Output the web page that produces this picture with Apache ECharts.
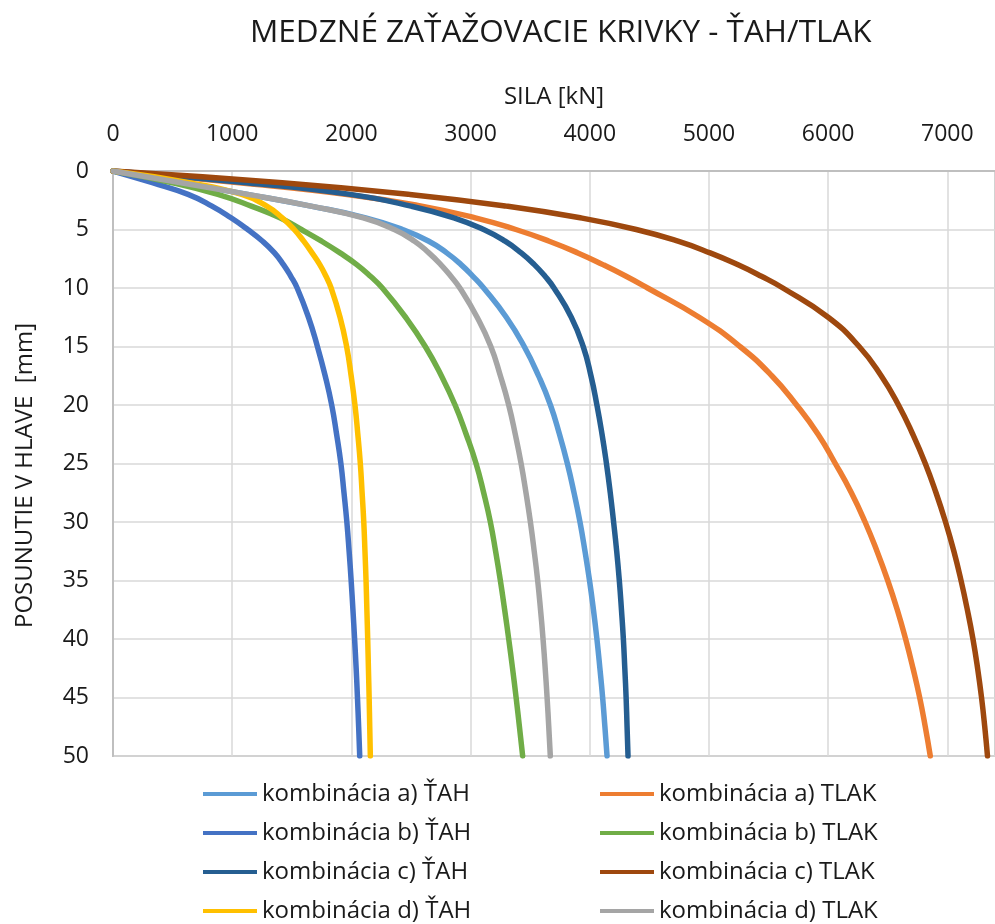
<!DOCTYPE html>
<html>
<head>
<meta charset="utf-8">
<script src="https://cdn.jsdelivr.net/npm/echarts@6/dist/echarts.min.js"></script>
<style>
  html, body { margin: 0; padding: 0; background: #fff; }
  #chart { width: 995px; height: 924px; }
</style>
</head>
<body>
<div id="chart"></div>
<script>
// posunutie v hlave [mm]
const posun = [0, 1, 2, 3, 4, 5, 6, 7, 8, 9, 10, 12.5, 15, 17.5, 20, 22.5, 25, 27.5, 30, 32.5, 35, 37.5, 40, 42.5, 45, 47.5, 50];
// sila [kN] pre jednotlive kombinacie
const aTah  = [0, 570, 1130, 1660, 2120, 2430, 2650, 2800, 2920, 3020, 3110, 3300, 3450, 3570, 3670, 3746, 3812, 3868, 3918, 3960, 3998, 4031, 4060, 4085, 4108, 4127, 4145];
const aTlak = [0, 1060, 1965, 2590, 3040, 3380, 3660, 3900, 4110, 4305, 4485, 4918, 5260, 5527, 5735, 5915, 6060, 6195, 6310, 6410, 6500, 6580, 6650, 6712, 6768, 6815, 6857];
const bTah  = [0, 330, 630, 830, 990, 1130, 1255, 1355, 1430, 1492, 1545, 1640, 1715, 1780, 1835, 1876, 1912, 1938, 1962, 1981, 1998, 2013, 2027, 2040, 2051, 2061, 2070];
const bTlak = [0, 500, 880, 1160, 1400, 1580, 1750, 1905, 2045, 2160, 2260, 2455, 2620, 2755, 2870, 2963, 3046, 3110, 3166, 3210, 3250, 3286, 3320, 3352, 3382, 3410, 3437];
const cTah  = [0, 1120, 1990, 2500, 2860, 3110, 3290, 3425, 3535, 3625, 3700, 3845, 3945, 4010, 4060, 4103, 4140, 4172, 4200, 4226, 4248, 4266, 4282, 4294, 4305, 4313, 4321];
const cTlak = [0, 1420, 2490, 3300, 3920, 4390, 4740, 5010, 5240, 5440, 5620, 6000, 6260, 6445, 6590, 6710, 6815, 6905, 6985, 7055, 7115, 7168, 7215, 7254, 7287, 7314, 7337];
const dTah  = [0, 640, 1080, 1290, 1420, 1520, 1600, 1670, 1735, 1787, 1830, 1905, 1960, 1998, 2030, 2054, 2075, 2090, 2104, 2114, 2123, 2130, 2137, 2143, 2149, 2154, 2159];
const dTlak = [0, 570, 1130, 1660, 2100, 2360, 2530, 2650, 2750, 2835, 2910, 3055, 3170, 3250, 3320, 3375, 3424, 3465, 3502, 3534, 3563, 3587, 3608, 3626, 3642, 3656, 3669];

const names = ['kombinácia a) ŤAH', 'kombinácia a) TLAK', 'kombinácia b) ŤAH', 'kombinácia b) TLAK',
               'kombinácia c) ŤAH', 'kombinácia c) TLAK', 'kombinácia d) ŤAH', 'kombinácia d) TLAK'];
const colors = ['#5B9BD5', '#ED7D31', '#4472C4', '#70AD47', '#255E91', '#9E480E', '#FFC000', '#A5A5A5'];
const sily = [aTah, aTlak, bTah, bTlak, cTah, cTlak, dTah, dTlak];

const font = '"Open Sans", sans-serif';
const txt = '#1a1a1a';

var myChart = echarts.init(document.getElementById('chart'));

var myseries = [];
var legends = [];
sily.forEach(function (arr, i) {
  myseries.push({
    name: names[i],
    type: 'line',
    smooth: true,
    showSymbol: false,
    symbol: 'none',
    data: arr.map(function (v, k) { return [v, posun[k]]; }),
    lineStyle: { color: colors[i], width: 5.5, cap: 'round', join: 'round' },
    itemStyle: { color: colors[i] }
  });
  // legenda: dva stlpce, styri riadky
  legends.push({
    left: i % 2 == 0 ? 203 : 600,
    top: 782 + Math.floor(i / 2) * 39,
    padding: 0,
    icon: 'rect',
    itemWidth: 54,
    itemHeight: 4,
    data: [names[i]],
    textStyle: { fontFamily: font, fontSize: 24, color: txt, lineHeight: 24 }
  });
});

var option = {
  backgroundColor: '#fff',
  animation: false,
  title: {
    text: 'MEDZNÉ ZAŤAŽOVACIE KRIVKY - ŤAH/TLAK',
    left: 245,
    top: 12,
    textStyle: { fontFamily: font, fontSize: 31.5, fontWeight: 'normal', color: txt }
  },
  legend: legends,
  grid: {
    left: 113, top: 171, right: 0, bottom: 168,
    show: true, borderColor: '#bfbfbf', borderWidth: 2
  },
  xAxis: {
    type: 'value',
    position: 'top',
    min: 0,
    max: 7400,
    interval: 1000,
    name: 'SILA [kN]',
    nameLocation: 'middle',
    nameGap: 62,
    nameTextStyle: { fontFamily: font, fontSize: 24, color: txt },
    axisLine: { show: true, lineStyle: { color: '#bfbfbf', width: 2 } },
    axisTick: { show: false },
    axisLabel: {
      fontFamily: font, fontSize: 23, color: txt, margin: 25, showMaxLabel: false,
      formatter: function (v) { return String(v); }
    },
    splitLine: { lineStyle: { color: '#d9d9d9', width: 1.5 } }
  },
  yAxis: {
    type: 'value',
    inverse: true,
    min: 0,
    max: 50,
    interval: 5,
    name: 'POSUNUTIE V HLAVE  [mm]',
    nameLocation: 'middle',
    nameRotate: 90,
    nameGap: 76,
    nameTextStyle: { fontFamily: font, fontSize: 24, color: txt, padding: [0, 24, 0, 0] },
    axisLine: { show: true, lineStyle: { color: '#bfbfbf', width: 2 } },
    axisTick: { show: false },
    axisLabel: { fontFamily: font, fontSize: 23, color: txt, margin: 24 },
    splitLine: { lineStyle: { color: '#d9d9d9', width: 1.5 } }
  },
  series: myseries
};

myChart.setOption(option, true);
window.addEventListener('resize', function () { myChart.resize(); });
</script>
</body>
</html>
